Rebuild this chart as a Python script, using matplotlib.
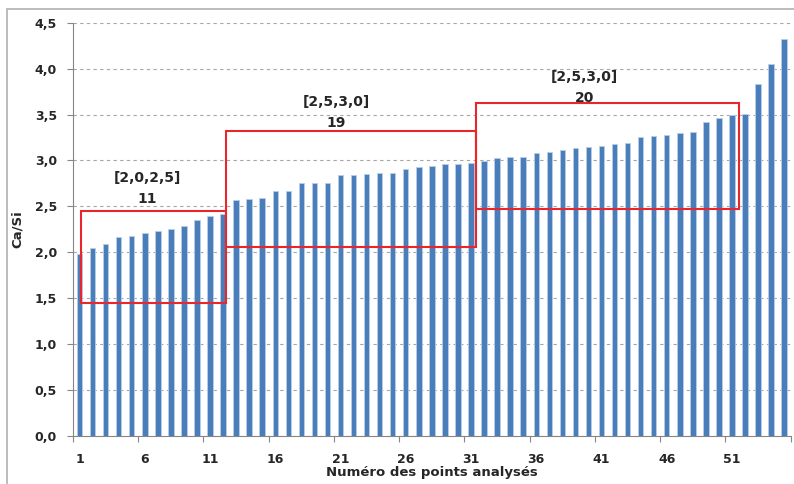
import matplotlib
matplotlib.use("Agg")
import matplotlib.pyplot as plt
from matplotlib.patches import Rectangle
import numpy as np

plt.rcParams['font.family'] = ['DejaVu Sans']

points = list(range(1, 56))
ca_si = [1.98, 2.05, 2.09, 2.17, 2.18, 2.21, 2.23, 2.25, 2.29, 2.35, 2.40, 2.42,
         2.57, 2.58, 2.59, 2.67, 2.67, 2.75, 2.76, 2.76, 2.84, 2.84, 2.85, 2.86,
         2.86, 2.91, 2.93, 2.94, 2.96, 2.96, 2.97, 2.99, 3.03, 3.04, 3.04, 3.08,
         3.09, 3.11, 3.14, 3.15, 3.16, 3.18, 3.19, 3.26, 3.27, 3.28, 3.30, 3.31,
         3.42, 3.46, 3.49, 3.51, 3.83, 4.05, 4.32]

yticks = [0.0, 0.5, 1.0, 1.5, 2.0, 2.5, 3.0, 3.5, 4.0, 4.5]
ytick_labels = ["0,0", "0,5", "1,0", "1,5", "2,0", "2,5", "3,0", "3,5", "4,0", "4,5"]
xtick_values = [1, 6, 11, 16, 21, 26, 31, 36, 41, 46, 51]

# boxes: (x0, x1, y0, y1), range label, count
box_x0 = [1.13, 12.25, 31.40]
box_x1 = [12.25, 31.37, 51.57]
box_y0 = [1.45, 2.06, 2.47]
box_y1 = [2.45, 3.32, 3.63]
box_range = ["[2,0,2,5]", "[2,5,3,0]", "[2,5,3,0]"]
box_count = ["11", "19", "20"]
label_x = [6.2, 20.7, 39.7]
range_y = [2.81, 3.64, 3.91]
count_y = [2.58, 3.41, 3.68]

fig = plt.figure(figsize=(7.94, 4.84), dpi=100)
ax = fig.add_axes([73/794, (484-436)/484, (790.7-73)/794, (436-22.7)/484])

# outer frame
fig.patches.append(Rectangle((7/794, -0.1), 1.2, (484-9)/484 + 0.1, transform=fig.transFigure,
                             fill=False, edgecolor='#b0b0b0', linewidth=1.2))

ax.bar(points, ca_si, width=0.42, color='#4a7ebb', edgecolor='#b9cde6', linewidth=0.6, zorder=3)

txt = dict(fontweight='bold', color='#262626')
ax.set_xlim(0.5, 55.5)
ax.set_ylim(0, 4.5)
ax.set_yticks(yticks)
ax.set_yticklabels(ytick_labels, fontsize=9, **txt)
ax.set_xticks(np.arange(0.5, 56, 5))
ax.set_xticklabels([])
ax.set_xticks(xtick_values, minor=True)
ax.set_xticklabels([str(v) for v in xtick_values], minor=True, fontsize=9, **txt)
ax.tick_params(axis='x', which='major', length=4, color='#868686', direction='out')
ax.tick_params(axis='x', which='minor', length=0, pad=12)
ax.tick_params(axis='y', length=4.5, color='#868686', pad=7)

ax.grid(axis='y', linestyle=(0, (3, 3)), color='#a6a6a6', linewidth=0.8, zorder=0)
for s in ['top', 'right']:
    ax.spines[s].set_visible(False)
for s in ['left', 'bottom']:
    ax.spines[s].set_color('#868686')

ax.set_ylabel("Ca/Si", fontsize=9.5, labelpad=8, **txt)
ax.set_xlabel("Numéro des points analysés", fontsize=9.5, labelpad=0.5, **txt)

for i in range(3):
    ax.add_patch(Rectangle((box_x0[i], box_y0[i]), box_x1[i]-box_x0[i], box_y1[i]-box_y0[i],
                           fill=False, edgecolor='#e8262c', linewidth=1.5, zorder=4))
    ax.text(label_x[i], range_y[i], box_range[i], ha='center', va='center', fontsize=10, **txt)
    ax.text(label_x[i], count_y[i], box_count[i], ha='center', va='center', fontsize=10, **txt)

fig.savefig("out.png", dpi=100)
